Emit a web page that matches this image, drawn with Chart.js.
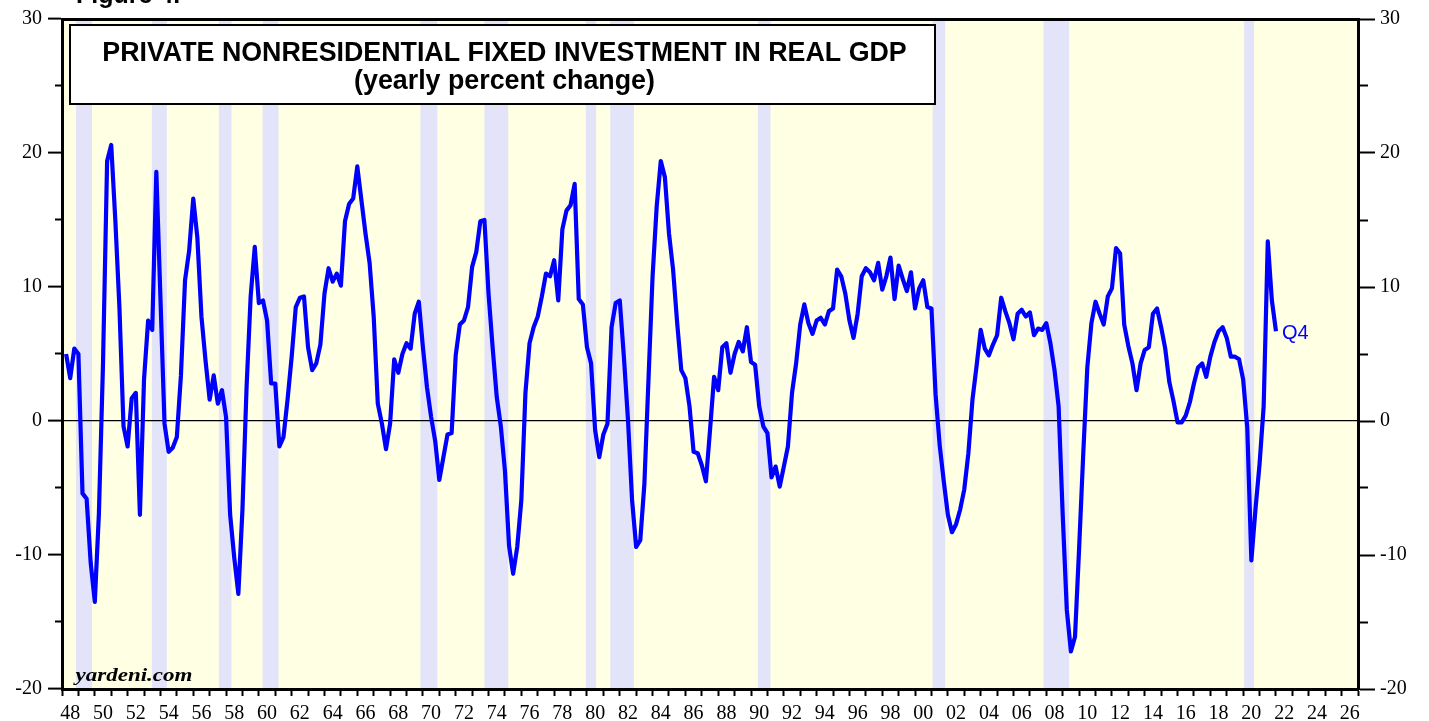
<!DOCTYPE html>
<html>
<head>
<meta charset="utf-8">
<script src="https://cdn.jsdelivr.net/npm/chart.js@4.4.1/dist/chart.umd.min.js"></script>
<style>
html,body{margin:0;padding:0;background:#fff;}
#wrap{width:1429px;height:721px;position:relative;}
</style>
</head>
<body>
<div id="wrap"><canvas id="c"></canvas></div>
<script>
// ---- data (quarterly, yearly percent change) ----
const startYear = 1948;          // first quarter is 1948 Q1
const values = [
  5.0, 3.2, 5.4, 5.0,        // 1948
  -5.4, -5.8, -10.6, -13.5,  // 1949
  -6.9, 4.3, 19.4, 20.6,     // 1950
  15.0, 8.5, -0.4, -1.9,     // 1951
  1.7, 2.1, -7.0, 3.1,       // 1952
  7.5, 6.8, 18.6, 9.2,       // 1953
  -0.2, -2.3, -2.0, -1.2,    // 1954
  3.4, 10.5, 12.7, 16.6,     // 1955
  13.7, 7.8, 4.5, 1.6,       // 1956
  3.4, 1.3, 2.3, 0.3,        // 1957
  -7.0, -10.2, -12.9, -6.6,  // 1958
  2.5, 9.3, 13.0, 8.8,       // 1959
  9.0, 7.5, 2.8, 2.8,        // 1960
  -1.9, -1.2, 1.6, 4.8,      // 1961
  8.5, 9.2, 9.3, 5.5,        // 1962
  3.8, 4.3, 5.7, 9.5,        // 1963
  11.4, 10.4, 11.0, 10.1,    // 1964
  14.9, 16.2, 16.6, 19.0,    // 1965
  16.5, 14.0, 11.8, 7.8,     // 1966
  1.3, -0.2, -2.1, -0.2,     // 1967
  4.6, 3.6, 5.0, 5.8,        // 1968
  5.4, 8.0, 8.9, 5.5,        // 1969
  2.5, 0.3, -1.5, -4.4,      // 1970
  -2.7, -1.0, -0.9, 4.9,     // 1971
  7.2, 7.5, 8.5, 11.5,       // 1972
  12.6, 14.9, 15.0, 9.5,     // 1973
  5.5, 1.8, -0.4, -3.7,      // 1974
  -9.3, -11.4, -9.4, -5.9,   // 1975
  2.1, 5.8, 7.0, 7.8,        // 1976
  9.3, 11.0, 10.8, 12.0,     // 1977
  9.0, 14.3, 15.7, 16.1,     // 1978
  17.7, 9.1, 8.7, 5.5,       // 1979
  4.3, -0.7, -2.7, -1.0,     // 1980
  -0.2, 7.0, 8.8, 9.0,       // 1981
  4.8, 0.1, -5.9, -9.4,      // 1982
  -8.9, -4.7, 3.1, 10.8,     // 1983
  16.0, 19.4, 18.2, 14.0,    // 1984
  11.3, 7.3, 3.8, 3.2,       // 1985
  1.1, -2.3, -2.4, -3.3,     // 1986
  -4.5, -0.7, 3.3, 2.3,      // 1987
  5.5, 5.8, 3.6, 5.0,        // 1988
  5.9, 5.2, 7.0, 4.4,        // 1989
  4.2, 1.1, -0.4, -0.9,      // 1990
  -4.2, -3.4, -4.9, -3.4,    // 1991
  -1.9, 2.1, 4.3, 7.2,       // 1992
  8.7, 7.3, 6.5, 7.5,        // 1993
  7.7, 7.2, 8.2, 8.4,        // 1994
  11.3, 10.8, 9.5, 7.5,      // 1995
  6.2, 8.0, 10.8, 11.4,      // 1996
  11.1, 10.5, 11.8, 9.8,     // 1997
  10.8, 12.2, 9.1, 11.6,     // 1998
  10.6, 9.7, 11.1, 8.4,      // 1999
  9.9, 10.5, 8.5, 8.4,       // 2000
  2.0, -1.8, -4.5, -7.0,     // 2001
  -8.3, -7.7, -6.6, -5.1,    // 2002
  -2.4, 1.6, 4.1, 6.8,       // 2003
  5.4, 4.9, 5.7, 6.4,        // 2004
  9.2, 8.2, 7.3, 6.1,        // 2005
  8.0, 8.3, 7.8, 8.1,        // 2006
  6.4, 6.9, 6.8, 7.3,        // 2007
  5.8, 3.8, 1.1, -7.0,       // 2008
  -14.1, -17.2, -16.1, -9.5, // 2009
  -2.5, 4.0, 7.3, 8.9,       // 2010
  8.0, 7.2, 9.3, 9.9,        // 2011
  12.9, 12.5, 7.2, 5.6,      // 2012
  4.3, 2.3, 4.3, 5.3,        // 2013
  5.5, 8.0, 8.4, 7.0,        // 2014
  5.4, 2.9, 1.5, -0.1,       // 2015
  -0.1, 0.4, 1.4, 2.8,       // 2016
  4.0, 4.3, 3.3, 4.8,        // 2017
  5.9, 6.7, 7.0, 6.2,        // 2018
  4.8, 4.8, 4.6, 3.1,        // 2019
  -0.5, -10.4, -6.6, -3.2,   // 2020
  1.1, 13.4, 9.0, 6.7        // 2021
];

// recession shading (decimal years)
const recessionStarts = [1948.85, 1953.48, 1957.56, 1960.23, 1969.85, 1973.75, 1979.93, 1981.42, 1990.42, 2001.07, 2007.83, 2020.06];
const recessionEnds   = [1949.83, 1954.39, 1958.33, 1961.20, 1970.88, 1975.20, 1980.56, 1982.86, 1991.19, 2001.84, 2009.39, 2020.67];

// axes
const xMin = 1948, xMax = 2027;
const yMin = -20, yMax = 30;
const yMajorStep = 10, yMinorStep = 5;

// texts
const titleLine1 = 'PRIVATE NONRESIDENTIAL FIXED INVESTMENT IN REAL GDP';
const titleLine2 = '(yearly percent change)';
const lastLabel = 'Q4';
const sourceLabel = 'yardeni.com';
const figureLabel = 'Figure 4.';

// ---- build ----
// each quarter is plotted at the end of its quarter
const points = values.map((v, i) => ({ x: startYear + (i + 1) / 4, y: v }));

const YELLOW = '#ffffe3';
const LAVENDER = '#e3e3fa';
const BLUE = '#0000ff';
const serif = 'Liberation Serif, Times New Roman, serif';
const sans = 'Liberation Sans, Arial, sans-serif';

const backgroundPlugin = {
  id: 'bg',
  beforeDraw(chart) {
    const { ctx, chartArea: a, scales } = chart;
    ctx.save();
    ctx.fillStyle = '#fff';
    ctx.fillRect(0, 0, chart.width, chart.height);
    ctx.fillStyle = YELLOW;
    ctx.fillRect(a.left, a.top, a.right - a.left, a.bottom - a.top);
    ctx.fillStyle = LAVENDER;
    recessionStarts.forEach((s, i) => {
      const x1 = scales.x.getPixelForValue(s);
      const x2 = scales.x.getPixelForValue(recessionEnds[i]);
      ctx.fillRect(x1, a.top, x2 - x1, a.bottom - a.top);
    });
    ctx.restore();
  }
};

const annotationPlugin = {
  id: 'ann',
  afterDraw(chart) {
    const { ctx, chartArea: a } = chart;
    ctx.save();
    // title box
    const bx = a.left + 8, by = a.top + 6, bw = 865, bh = 79;
    ctx.fillStyle = '#fff';
    ctx.fillRect(bx, by, bw, bh);
    ctx.lineWidth = 2;
    ctx.strokeStyle = '#000';
    ctx.strokeRect(bx, by, bw, bh);
    ctx.fillStyle = '#000';
    ctx.textAlign = 'center';
    ctx.textBaseline = 'alphabetic';
    ctx.font = 'bold 26.8px ' + sans;
    ctx.fillText(titleLine1, bx + bw / 2 + 2, by + 36);
    ctx.fillText(titleLine2, bx + bw / 2 + 2, by + 64);

    // figure label (cut at top)
    ctx.textAlign = 'left';
    ctx.font = 'bold 25px ' + sans;
    ctx.fillText(figureLabel, 76, 3);

    // source
    ctx.font = 'bold italic 18px ' + serif;
    const w = ctx.measureText(sourceLabel).width;
    ctx.translate(a.left + 13.5, a.bottom - 8);
    ctx.scale(117 / w, 1);
    ctx.fillText(sourceLabel, 0, 0);
    ctx.setTransform(1, 0, 0, 1, 0, 0);

    // last value label
    const meta = chart.getDatasetMeta(0);
    const last = meta.data[meta.data.length - 1];
    ctx.fillStyle = BLUE;
    ctx.font = '20px ' + sans;
    ctx.textBaseline = 'middle';
    ctx.fillText(lastLabel, last.x + 6, last.y + 2);
    ctx.restore();
  }
};

const tickFont = { family: serif, size: 20 };

new Chart(document.getElementById('c'), {
  type: 'line',
  data: {
    datasets: [{
      data: points,
      borderColor: BLUE,
      borderWidth: 4.2,
      pointRadius: 0,
      tension: 0,
      borderJoinStyle: 'round',
      fill: false
    }]
  },
  options: {
    responsive: true,
    maintainAspectRatio: false,
    animation: false,
    layout: { padding: 0 },
    plugins: { legend: { display: false }, tooltip: { enabled: false }, title: { display: false } },
    scales: {
      x: {
        type: 'linear', position: 'bottom', min: xMin, max: xMax,
        afterFit: s => { s.height = 32; },
        ticks: {
          stepSize: 1, autoSkip: false, maxRotation: 0, minRotation: 0,
          labelOffset: 8.2, padding: 6, color: '#000', font: tickFont,
          callback: v => (v % 2 === 0 && v < xMax) ? String(v % 100).padStart(2, '0') : ''
        },
        grid: { drawOnChartArea: false, drawTicks: true, tickLength: 7, tickWidth: 2, tickColor: '#000' },
        border: { display: true, width: 3, color: '#000' }
      },
      xTop: {
        type: 'linear', position: 'top', min: xMin, max: xMax,
        afterFit: s => { s.height = 19; },
        ticks: { display: false },
        grid: { display: false },
        border: { display: true, width: 3, color: '#000' }
      },
      y: {
        type: 'linear', position: 'left', min: yMin, max: yMax,
        afterFit: s => { s.width = 62; },
        ticks: {
          stepSize: yMinorStep, autoSkip: false, padding: 6, color: '#000', font: tickFont,
          callback: v => (v % yMajorStep === 0) ? String(v) : ''
        },
        grid: {
          drawOnChartArea: true,
          color: c => (c.tick && c.tick.value === 0) ? '#000' : 'rgba(0,0,0,0)',
          lineWidth: 1.2,
          tickLength: 14, tickWidth: 2, tickColor: '#000',
          tickBorderDash: c => (c.tick && c.tick.value % yMajorStep !== 0) ? [0, 7, 8, 100] : []
        },
        border: { display: true, width: 3, color: '#000' }
      },
      yRight: {
        type: 'linear', position: 'right', min: yMin, max: yMax,
        afterFit: s => { s.width = 71; },
        ticks: {
          stepSize: yMinorStep, autoSkip: false, padding: 5, color: '#000', font: tickFont,
          callback: v => (v % yMajorStep === 0) ? String(v) : ''
        },
        grid: {
          drawOnChartArea: false,
          tickLength: 17, tickWidth: 2, tickColor: '#000',
          tickBorderDash: c => (c.tick && c.tick.value % yMajorStep !== 0) ? [8, 100] : []
        },
        border: { display: true, width: 3, color: '#000' }
      }
    }
  },
  plugins: [backgroundPlugin, annotationPlugin]
});
</script>
</body>
</html>
